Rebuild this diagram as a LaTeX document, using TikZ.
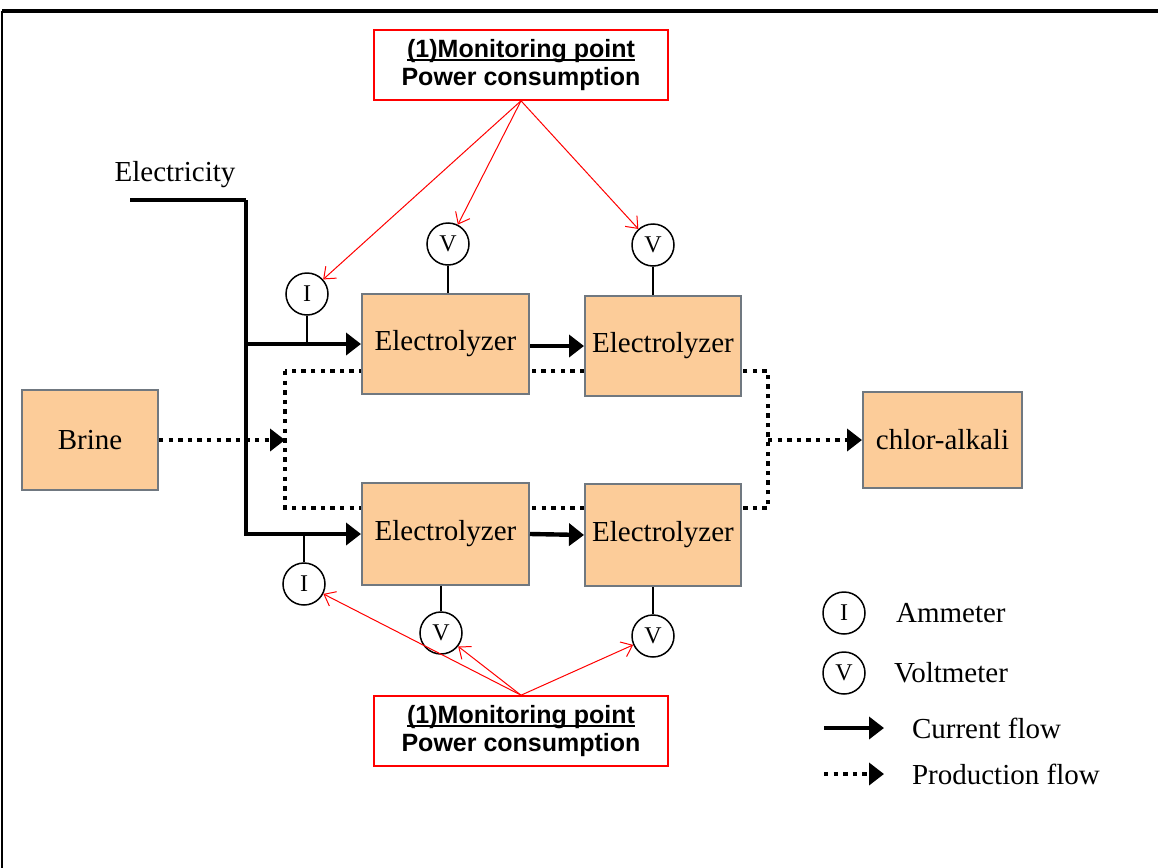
\documentclass[tikz,border=0pt]{standalone}
\usepackage{fontspec}
\setmainfont{Liberation Serif}
\setsansfont{Liberation Sans}
\usetikzlibrary{arrows.meta, positioning, backgrounds}
\definecolor{peach}{RGB}{252,204,153}
\definecolor{boxgray}{RGB}{112,120,128}
\definecolor{monred}{RGB}{255,0,0}
\newcommand{\monul}[1]{\setbox0\hbox{#1}\rlap{\rule[-1.6pt]{\wd0}{0.7pt}}\box0}

\begin{document}
\begin{tikzpicture}[x=0.5pt, y=-0.5pt,
  unitbox/.style={draw=boxgray, line width=1pt, fill=peach, inner sep=0pt,
    minimum height=50pt, font=\fontsize{14.5}{17}\selectfont},
  meter/.style={draw, circle, line width=0.75pt, minimum size=21pt, inner sep=0pt,
    font=\fontsize{12}{14}\selectfont},
  monbox/.style={draw=monred, line width=0.8pt, minimum width=147pt, minimum height=35pt,
    align=center, font=\fontsize{12.5}{14}\selectfont\sffamily\bfseries},
  current/.style={line width=2.2pt, -{Triangle[length=7.5pt, width=11pt]}},
  prod/.style={line width=2.3pt, dash pattern=on 2.2pt off 2.6pt},
  prodarrow/.style={prod, -{Triangle[length=7.5pt, width=11pt]}},
  tap/.style={line width=0.6pt},
  redarrow/.style={draw=monred, line width=0.5pt, -{Straight Barb[length=5pt, width=8pt]}},
  lbl/.style={font=\fontsize{14.5}{17}\selectfont}]
  \useasboundingbox (0,0) rectangle (1158,868);
  % frame
  \draw[line width=0.6pt] (2,868) -- (2,11);
  \draw[line width=1.6pt] (2,11) -- (1158,11);

  % units
  \node[unitbox, minimum width=68pt] (brine) at (90,440) {Brine};
  \node[unitbox, minimum width=83.5pt] (cellA) at (445.5,344) {Electrolyzer};
  \node[unitbox, minimum width=78pt] (cellB) at (663,346) {Electrolyzer};
  \node[unitbox, minimum width=83.5pt, minimum height=51pt] (cellC) at (445.5,534) {Electrolyzer};
  \node[unitbox, minimum width=78pt, minimum height=51pt] (cellD) at (663,535) {Electrolyzer};
  \node[unitbox, minimum width=79.5pt, minimum height=48pt] (chlor) at (942.5,440) {chlor-alkali};

  % production flow
  \coordinate (inlet) at (285,440);
  \coordinate (outlet) at (768,440);
  \begin{scope}[on background layer]
    \draw[prod] (285,371) rectangle (768,508);
  \end{scope}
  \draw[prodarrow] (brine.east) -- (inlet);
  \draw[prodarrow] (outlet) -- (chlor.west);

  % current flow
  \node[lbl] (elecLabel) at (175,175) {Electricity};
  \coordinate (elec) at (130,200);
  \coordinate (bus) at (246,200);
  \draw[line width=2.2pt] (elec) -- (bus);
  \draw[current] (bus) |- (cellC.west);
  \draw[current] (bus |- cellA.west) -- (cellA.west);
  \draw[current] (cellA.east |- cellB.west) -- (cellB.west);
  \draw[current] (cellC.east) -- (cellD.west);

  % meters
  \node[meter] (iTop) at (307,294) {I};
  \node[meter] (vTopA) at (448,244) {V};
  \node[meter] (vTopB) at (653,245) {V};
  \node[meter] (iBot) at (304,584) {I};
  \node[meter] (vBotA) at (441,633) {V};
  \node[meter] (vBotB) at (653,636) {V};
  \draw[tap] (iTop.south) -- (iTop.south |- cellA.west);
  \draw[tap] (vTopA.south) -- (vTopA.south |- cellA.north);
  \draw[tap] (vTopB.south) -- (vTopB.south |- cellB.north);
  \draw[tap] (iBot.north) -- (iBot.north |- cellC.west);
  \draw[tap] (vBotA.north) -- (vBotA.north |- cellC.south);
  \draw[tap] (vBotB.north) -- (vBotB.north |- cellD.south);

  % monitoring points
  \node[monbox] (monTop) at (521,65) {\monul{(1)Monitoring point}\\Power consumption};
  \node[monbox] (monBot) at (521,731) {\monul{(1)Monitoring point}\\Power consumption};
  \foreach \m in {iTop, vTopA, vTopB}
    \draw[redarrow] (monTop.south) -- (\m);
  \foreach \m in {iBot, vBotA, vBotB}
    \draw[redarrow] (monBot.north) -- (\m);

  % legend
  \node[meter] (legI) at (844,613) {I};
  \node[meter] (legV) at (844,673) {V};
  \node[lbl, anchor=west] (legIText) at (889,613) {Ammeter};
  \node[lbl, anchor=west] (legVText) at (887,673) {Voltmeter};
  \coordinate (legCurA) at (824,728);
  \coordinate (legCurB) at (884,728);
  \coordinate (legProA) at (824,774);
  \coordinate (legProB) at (884,774);
  \draw[current] (legCurA) -- (legCurB);
  \draw[prodarrow] (legProA) -- (legProB);
  \node[lbl, anchor=west] (legCurText) at (905,728) {Current flow};
  \node[lbl, anchor=west] (legProText) at (905,774) {Production flow};
\end{tikzpicture}
\end{document}
